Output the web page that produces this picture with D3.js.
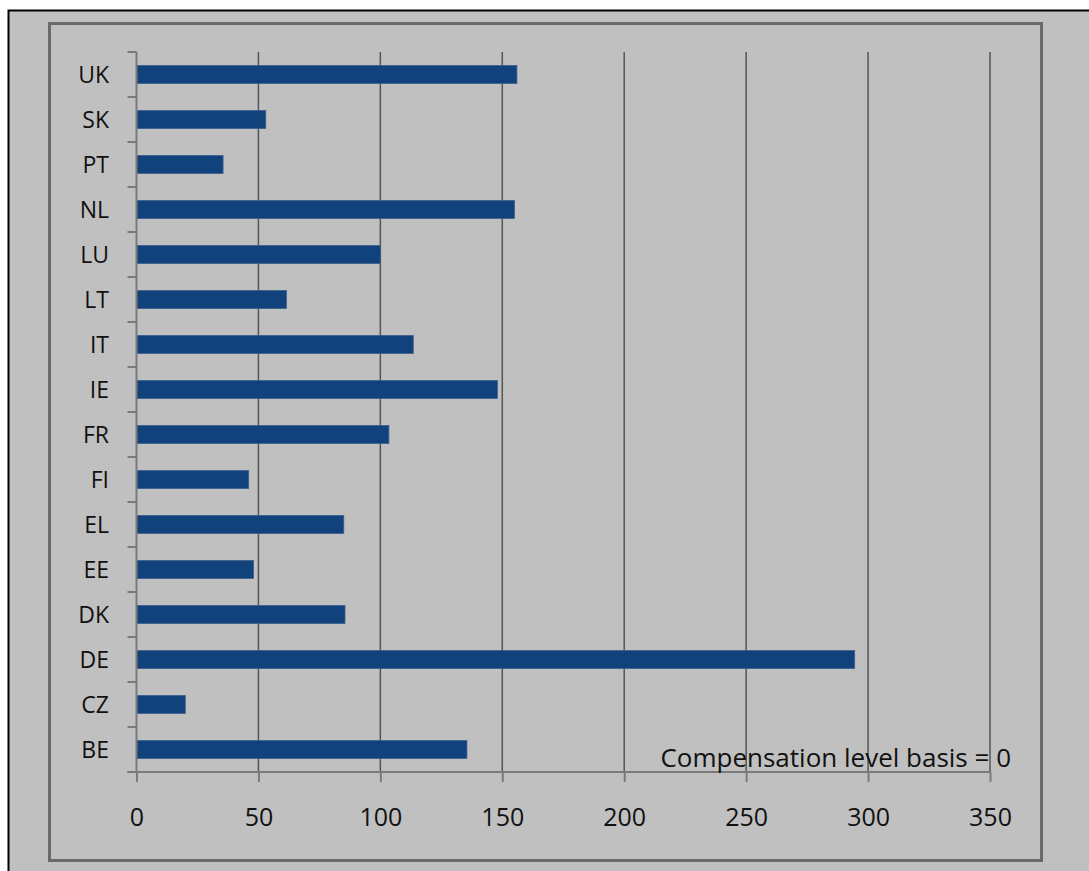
<!DOCTYPE html>
<html>
<head>
<meta charset="utf-8">
<script src="https://cdn.jsdelivr.net/npm/d3@7"></script>
<style>
  html, body { margin: 0; padding: 0; background: #fff; }
  svg { display: block; }
  text { font-family: "Open Sans", Lato, sans-serif; fill: #111; }
</style>
</head>
<body>
<svg id="chart" width="1089" height="871"></svg>
<script>
// data, top to bottom as in the picture
const countries = ["UK", "SK", "PT", "NL", "LU", "LT", "IT", "IE", "FR", "FI", "EL", "EE", "DK", "DE", "CZ", "BE"];
const values = [156, 53, 35.5, 155, 100, 61.5, 113.5, 148, 103.5, 46, 85, 48, 85.5, 294.5, 20, 135.5];
const xTicks = [0, 50, 100, 150, 200, 250, 300, 350];
const note = "Compensation level basis = 0";

const svg = d3.select("#chart");

// outer frame
svg.append("rect")
    .attr("x", 8.5).attr("y", 10.5)
    .attr("width", 1100).attr("height", 900)
    .attr("fill", "#c0c0c0")
    .attr("stroke", "#000")
    .attr("stroke-width", 2);

// inner chart box
svg.append("rect")
    .attr("x", 49.5).attr("y", 23.5)
    .attr("width", 992).attr("height", 837)
    .attr("fill", "#c0c0c0")
    .attr("stroke", "#6a6a6a")
    .attr("stroke-width", 3);

const x = d3.scaleLinear().domain([0, 350]).range([136.5, 990]);
const y = d3.scaleBand().domain(countries).range([52, 772])
    .paddingInner(0.6).paddingOuter(0.3);

const axisColor = "#7a7a7a";
const gridColor = "#555";

// vertical gridlines
svg.append("g")
    .selectAll("line")
    .data(xTicks.filter(d => d > 0))
    .join("line")
    .attr("x1", d => x(d)).attr("x2", d => x(d))
    .attr("y1", 52).attr("y2", 772)
    .attr("stroke", gridColor)
    .attr("stroke-width", 1.5);

// bars
svg.append("g")
    .selectAll("rect")
    .data(countries)
    .join("rect")
    .attr("x", x(0))
    .attr("y", d => y(d))
    .attr("width", (d, i) => x(values[i]) - x(0))
    .attr("height", y.bandwidth())
    .attr("fill", "#12427b")
    .attr("stroke", "#3a5f8f")
    .attr("stroke-width", 0.8);

// y axis line + ticks at band edges
const step = y.step();
const edges = d3.range(countries.length + 1).map(i => 52 + i * step);
const yAxis = svg.append("g");
yAxis.append("line")
    .attr("x1", x(0)).attr("x2", x(0))
    .attr("y1", 52).attr("y2", 772)
    .attr("stroke", axisColor).attr("stroke-width", 2);
yAxis.selectAll("line.tick")
    .data(edges)
    .join("line")
    .attr("class", "tick")
    .attr("x1", x(0) - 9).attr("x2", x(0))
    .attr("y1", d => d).attr("y2", d => d)
    .attr("stroke", axisColor).attr("stroke-width", 2);
yAxis.selectAll("text")
    .data(countries)
    .join("text")
    .attr("x", 109)
    .attr("y", d => y(d) + y.bandwidth() / 2)
    .attr("dy", "0.36em")
    .attr("text-anchor", "end")
    .attr("font-size", 23)
    .text(d => d);

// x axis
const xAxis = svg.append("g")
    .attr("transform", "translate(0,772)")
    .call(d3.axisBottom(x).tickValues(xTicks).tickSize(10).tickPadding(26));
xAxis.select(".domain").remove();
xAxis.append("line")
    .attr("x1", x(0) - 9).attr("x2", x(350))
    .attr("stroke", axisColor).attr("stroke-width", 2);
xAxis.selectAll(".tick line").attr("stroke", axisColor).attr("stroke-width", 2);
xAxis.selectAll(".tick text")
    .attr("font-size", 25)
    .attr("font-family", "'Open Sans', sans-serif")
    .attr("fill", "#111");

// note
svg.append("text")
    .attr("x", 1011)
    .attr("y", 767)
    .attr("text-anchor", "end")
    .attr("font-size", 26)
    .text(note);
</script>
</body>
</html>
